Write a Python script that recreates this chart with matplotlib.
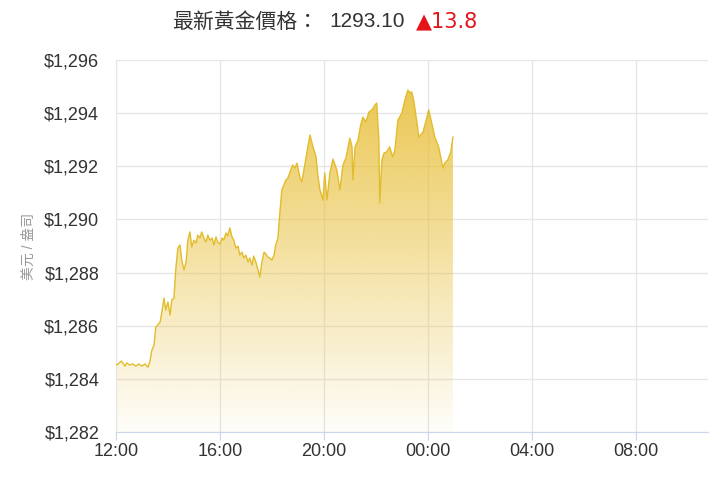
import numpy as np
import matplotlib.pyplot as plt
from matplotlib.colors import to_rgb
from matplotlib.patches import Polygon

# minutes after 12:00 and gold price (USD / oz)
minutes = [0, 5, 12, 16, 21, 25, 32, 39, 46, 53, 60, 67, 74, 78, 83, 88, 92, 97,
           102, 106, 111, 115, 120, 125, 129, 134, 138, 143, 148, 152, 157, 162,
           166, 171, 175, 180, 185, 189, 194, 198, 203, 208, 212, 217, 222, 226,
           231, 235, 240, 245, 249, 254, 258, 263, 268, 272, 277, 282, 286, 291,
           295, 300, 305, 309, 314, 318, 323, 328, 332, 337, 342, 346, 351, 355,
           360, 365, 369, 374, 378, 383, 388, 392, 397, 402, 408, 413, 418, 425,
           429, 436, 441, 448, 455, 462, 466, 471, 478, 482, 487, 494, 501, 510,
           517, 524, 531, 540, 545, 547, 552, 559, 565, 570, 577, 584, 591, 598,
           602, 607, 609, 614, 619, 625, 632, 639, 644, 651, 660, 667, 674, 679,
           683, 688, 695, 699, 709, 718, 722, 729, 736, 745, 755, 759, 766, 773,
           778]
prices = [1284.52, 1284.56, 1284.67, 1284.60, 1284.48, 1284.60, 1284.52, 1284.56,
          1284.48, 1284.56, 1284.48, 1284.56, 1284.44, 1284.63, 1285.08, 1285.27,
          1285.95, 1286.03, 1286.14, 1286.51, 1287.04, 1286.59, 1286.89, 1286.40,
          1286.97, 1287.04, 1288.10, 1288.92, 1289.04, 1288.47, 1288.10, 1288.40,
          1289.22, 1289.53, 1288.96, 1289.22, 1289.11, 1289.41, 1289.30, 1289.53,
          1289.30, 1289.15, 1289.41, 1289.22, 1289.30, 1289.04, 1289.34, 1289.15,
          1289.07, 1289.30, 1289.22, 1289.49, 1289.38, 1289.68, 1289.34, 1289.22,
          1288.92, 1288.99, 1288.66, 1288.77, 1288.55, 1288.66, 1288.40, 1288.55,
          1288.28, 1288.62, 1288.40, 1288.10, 1287.83, 1288.40, 1288.77, 1288.70,
          1288.58, 1288.55, 1288.47, 1288.66, 1289.04, 1289.30, 1290.17, 1291.11,
          1291.30, 1291.48, 1291.56, 1291.78, 1292.05, 1291.93, 1292.12, 1291.56,
          1291.41, 1292.05, 1292.54, 1293.18, 1292.73, 1292.35, 1291.67, 1291.11,
          1290.73, 1291.75, 1290.73, 1291.75, 1292.27, 1291.86, 1291.11, 1292.05,
          1292.31, 1293.06, 1292.73, 1291.48, 1292.73, 1292.99, 1293.55, 1293.85,
          1293.67, 1294.04, 1294.12, 1294.31, 1294.38, 1292.99, 1290.62, 1292.24,
          1292.50, 1292.54, 1292.73, 1292.35, 1292.61, 1293.74, 1294.00, 1294.49,
          1294.87, 1294.76, 1294.80, 1294.42, 1293.63, 1293.10, 1293.29, 1293.85,
          1294.12, 1293.63, 1293.10, 1292.73, 1291.93, 1292.12, 1292.24, 1292.54,
          1293.10]

tick_hours = [0, 4, 8, 12, 16, 20]
tick_labels = ["12:00", "16:00", "20:00", "00:00", "04:00", "08:00"]
y_ticks = [1282, 1284, 1286, 1288, 1290, 1292, 1294, 1296]

latest = "1293.10"
change = "\u25b213.8"

plt.rcParams['font.family'] = ['Liberation Sans', 'Noto Sans CJK TC', 'DejaVu Sans']

hours = np.array(minutes) / 60.0
prices = np.array(prices)
y_min, y_max = 1282, 1296

fig = plt.figure(figsize=(7.2, 4.8), dpi=100)
ax = fig.add_axes([0.161, 0.1, 0.822, 0.775])
ax.set_xlim(0, 22.77)
ax.set_ylim(y_min, y_max)

ax.grid(True, color='#e6e6e6', linewidth=1)
ax.set_axisbelow(True)

# gradient fill under the line
gold = to_rgb('#e8c03c')
grad = np.zeros((256, 1, 4))
grad[:, 0, 0:3] = gold
grad[:, 0, 3] = np.linspace(0.95, 0.03, 256)
img = ax.imshow(grad, aspect='auto', extent=[0, 22.77, y_min, y_max],
                origin='upper', zorder=2)
poly_xy = np.column_stack([np.r_[hours[0], hours, hours[-1]],
                           np.r_[y_min, prices, y_min]])
clip = Polygon(poly_xy, closed=True, facecolor='none', edgecolor='none',
               transform=ax.transData)
ax.add_patch(clip)
img.set_clip_path(clip)

ax.plot(hours, prices, color='#e3bc2c', linewidth=1.0, zorder=3)

ax.set_xticks(tick_hours)
ax.set_xticklabels(tick_labels)
ax.set_yticks(y_ticks)
ax.set_yticklabels(["${:,}".format(v) for v in y_ticks])

for s in ['top', 'right']:
    ax.spines[s].set_visible(False)
ax.spines['left'].set_color('#e6e6e6')
ax.spines['bottom'].set_color('#ccd6eb')
ax.tick_params(axis='x', colors='#ccd6eb', length=6, labelcolor='#333333',
               labelsize=13, pad=2)
ax.tick_params(axis='y', length=0, labelcolor='#333333', labelsize=13, pad=12)

ax.set_ylabel("美元 / 盎司", color='#999999', fontsize=10, labelpad=6)

fig.text(0.239, 0.955, "最新黃金價格：", fontsize=15, color='#333333',
         ha='left', va='center')
fig.text(0.458, 0.955, latest, fontsize=15, color='#333333', ha='left', va='center')
fig.text(0.578, 0.955, change, fontsize=15, color='#e4141b', ha='left', va='center',
         family=['DejaVu Sans'])

fig.savefig('out.png', dpi=100)
